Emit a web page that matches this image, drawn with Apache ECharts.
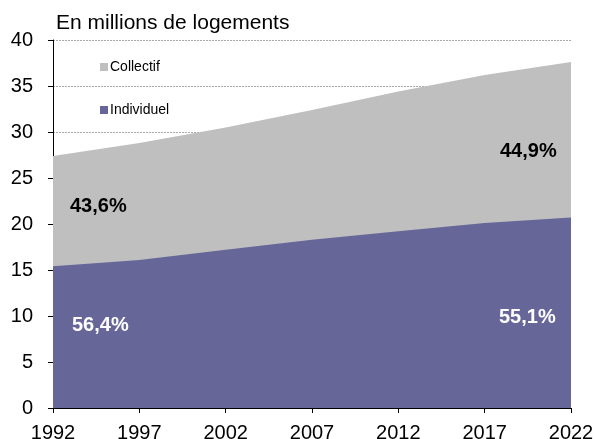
<!DOCTYPE html>
<html>
<head>
<meta charset="utf-8">
<script src="https://cdn.jsdelivr.net/npm/echarts@6/dist/echarts.min.js"></script>
<style>
  html, body { margin: 0; padding: 0; background: #fff; }
  #chart { width: 594px; height: 439px; }
</style>
</head>
<body>
<div id="chart"></div>
<script>
// années et valeurs (millions de logements)
var years = [1992, 1997, 2002, 2007, 2012, 2017, 2022];
var individuel = [15.4, 16.1, 17.2, 18.3, 19.2, 20.1, 20.7];
var collectif = [12.0, 12.7, 13.3, 14.1, 15.2, 16.1, 16.9];
var yearTicks = [1992, 1997, 2002, 2007, 2012, 2017, 2022];

var FONT = '"Liberation Sans", Arial, sans-serif';

// empilement fait à la main : le collectif est posé sur l'individuel
var total = individuel.map(function (v, i) { return +(v + collectif[i]).toFixed(2); });

function pairs(vals) {
  return years.map(function (y, i) { return [y, vals[i]]; });
}

var chart = echarts.init(document.getElementById('chart'));
chart.setOption({
  animation: false,
  textStyle: { fontFamily: FONT },
  title: {
    text: 'En millions de logements',
    left: 51, top: 8,
    textStyle: { fontSize: 21, fontWeight: 'normal', color: '#000', fontFamily: FONT }
  },
  legend: [
    {
      data: ['Collectif'], left: 95, top: 55, orient: 'vertical',
      icon: 'rect', itemWidth: 8, itemHeight: 8,
      textStyle: { fontSize: 14, color: '#000', fontFamily: FONT, padding: [0, 0, 0, -3] }
    },
    {
      data: ['Individuel'], left: 95, top: 98, orient: 'vertical',
      icon: 'rect', itemWidth: 8, itemHeight: 8,
      textStyle: { fontSize: 14, color: '#000', fontFamily: FONT, padding: [0, 0, 0, -3] }
    }
  ],
  grid: { left: 53, right: 23, top: 40, bottom: 31, outerBoundsMode: 'none' },
  xAxis: {
    type: 'value', min: 1992, max: 2022,
    axisLine: { lineStyle: { color: '#000', width: 1 } },
    axisTick: { show: true, length: 5, customValues: yearTicks, lineStyle: { color: '#000' } },
    axisLabel: { customValues: yearTicks, fontSize: 20, color: '#000', margin: 15, fontFamily: FONT,
      formatter: function (v) { return String(v); } },
    splitLine: { show: false }
  },
  yAxis: {
    type: 'value', min: 0, max: 40, interval: 5,
    axisLine: { show: true, lineStyle: { color: '#000', width: 1 } },
    axisTick: { show: true, length: 5, lineStyle: { color: '#000' } },
    axisLabel: { fontSize: 20, color: '#000', margin: 20, fontFamily: FONT },
    splitLine: { show: true, lineStyle: { color: '#aaa', type: [2, 1], width: 1 } }
  },
  series: [
    {
      name: 'Collectif', type: 'line', data: pairs(total),
      symbol: 'none', lineStyle: { width: 0 }, itemStyle: { color: '#bfbfbf' },
      areaStyle: { color: '#bfbfbf', opacity: 1 }, z: 3
    },
    {
      name: 'Individuel', type: 'line', data: pairs(individuel),
      symbol: 'none', lineStyle: { width: 0 }, itemStyle: { color: '#666699' },
      areaStyle: { color: '#666699', opacity: 1 }, z: 4
    }
  ],
  graphic: [
    { type: 'text', left: 70, top: 196, z: 10,
      style: { text: '43,6%', font: 'bold 20px ' + FONT, fill: '#000' } },
    { type: 'text', left: 500, top: 141, z: 10,
      style: { text: '44,9%', font: 'bold 20px ' + FONT, fill: '#000' } },
    { type: 'text', left: 72, top: 315, z: 10,
      style: { text: '56,4%', font: 'bold 20px ' + FONT, fill: '#fff' } },
    { type: 'text', left: 499, top: 307, z: 10,
      style: { text: '55,1%', font: 'bold 20px ' + FONT, fill: '#fff' } }
  ]
});
</script>
</body>
</html>
